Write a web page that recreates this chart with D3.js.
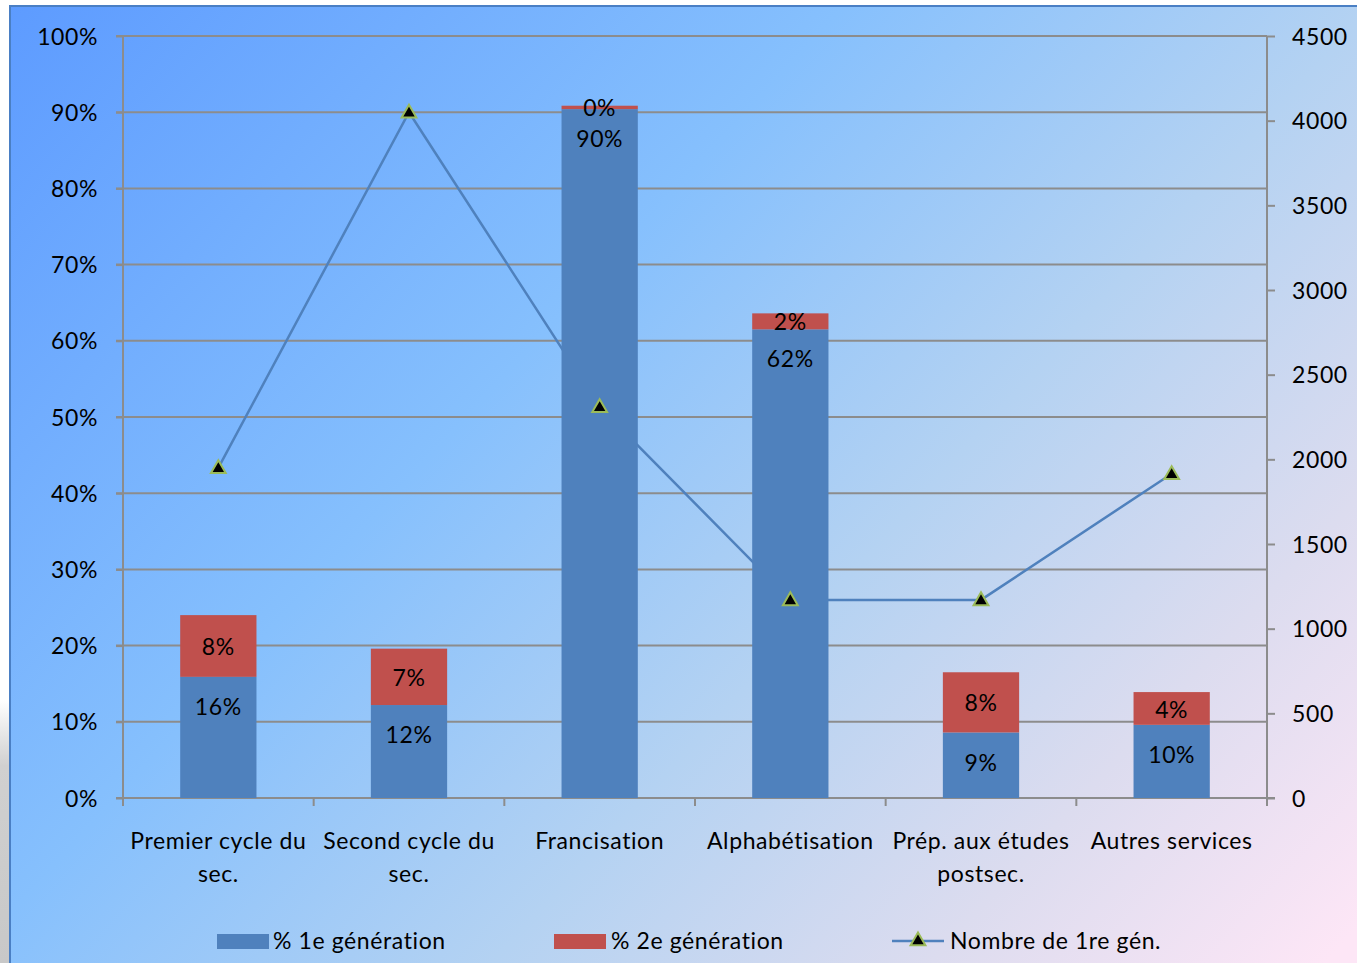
<!DOCTYPE html>
<html>
<head>
<meta charset="utf-8">
<script src="https://cdn.jsdelivr.net/npm/d3@7/dist/d3.min.js"></script>
<style>
  html, body { margin: 0; padding: 0; background: #ffffff; }
  svg { display: block; }
  text { font-family: Lato, "Open Sans", sans-serif; fill: #000; letter-spacing: 0.6px; }
</style>
</head>
<body>
<svg id="chart" width="1357" height="963"></svg>
<script>
// ---- Data ----
const categories = ["Premier cycle du sec.", "Second cycle du sec.", "Francisation", "Alphabétisation", "Prép. aux études postsec.", "Autres services"];
const tickLabels = [["Premier cycle du", "sec."], ["Second cycle du", "sec."], ["Francisation"], ["Alphabétisation"], ["Prép. aux études", "postsec."], ["Autres services"]];
const gen1 = [15.9, 12.2, 90.4, 61.5, 8.6, 9.6];      // % 1e génération
const gen2 = [8.1, 7.4, 0.45, 2.1, 7.9, 4.3];         // % 2e génération
const count1 = [1950, 4050, 2310, 1170, 1170, 1915];  // Nombre de 1re gén.
const leftTicks = [0, 10, 20, 30, 40, 50, 60, 70, 80, 90, 100];
const rightTicks = [0, 500, 1000, 1500, 2000, 2500, 3000, 3500, 4000, 4500];
const seriesNames = ["% 1e génération", "% 2e génération", "Nombre de 1re gén."];

// ---- Layout ----
const W = 1357, H = 963;
const plot = { left: 123, right: 1267, top: 36, bottom: 798 };
const colBlue = "#4f81bd", colRed = "#c0504d", colGrid = "#8c8c8c", colMarkerStroke = "#9bbb59";
const fontSize = 23;

const svg = d3.select("#chart");
const defs = svg.append("defs");

const bg = defs.append("linearGradient").attr("id", "bg")
  .attr("gradientUnits", "userSpaceOnUse")
  .attr("x1", 10).attr("y1", 6).attr("x2", 1200).attr("y2", 1100);
bg.append("stop").attr("offset", 0).attr("stop-color", "#5d9bff");
bg.append("stop").attr("offset", 0.38).attr("stop-color", "#86c0fd");
bg.append("stop").attr("offset", 0.62).attr("stop-color", "#b4d2f2");
bg.append("stop").attr("offset", 0.82).attr("stop-color", "#dcdcef");
bg.append("stop").attr("offset", 1).attr("stop-color", "#fde6f6");

const sh = defs.append("linearGradient").attr("id", "shadow")
  .attr("x1", 0).attr("y1", 0).attr("x2", 0).attr("y2", 1);
sh.append("stop").attr("offset", 0).attr("stop-color", "#ffffff");
sh.append("stop").attr("offset", 0.25).attr("stop-color", "#d0d0d0");
sh.append("stop").attr("offset", 1).attr("stop-color", "#c8c8c8");

// Outer shadow on left edge
svg.append("rect").attr("x", 0).attr("y", 700).attr("width", 10).attr("height", 263).attr("fill", "url(#shadow)");

// Chart area background
svg.append("rect").attr("x", 10).attr("y", 6).attr("width", W).attr("height", H)
  .attr("fill", "url(#bg)").attr("stroke", "#4a7fc4").attr("stroke-width", 2);

// ---- Scales ----
const x = d3.scaleBand().domain(categories).range([plot.left, plot.right]).paddingInner(0.6).paddingOuter(0.3);
const xOuter = d3.scaleBand().domain(categories).range([plot.left, plot.right]);
const yL = d3.scaleLinear().domain([0, 100]).range([plot.bottom, plot.top]);
const yR = d3.scaleLinear().domain([0, 4500]).range([plot.bottom, plot.top]);

// ---- Gridlines ----
svg.append("g").selectAll("line").data(leftTicks.filter(d => d > 0)).join("line")
  .attr("x1", plot.left - 7).attr("x2", plot.right)
  .attr("y1", d => yL(d)).attr("y2", d => yL(d))
  .attr("stroke", colGrid).attr("stroke-width", 2);

// ---- Left axis ----
const gL = svg.append("g").attr("transform", `translate(${plot.left},0)`)
  .call(d3.axisLeft(yL).tickValues(leftTicks).tickFormat(d => d + "%").tickSize(7).tickPadding(18));
gL.select(".domain").attr("stroke", colGrid).attr("stroke-width", 2).attr("d", `M0,${plot.top}V${plot.bottom + 8}`);
gL.selectAll(".tick line").attr("stroke", colGrid).attr("stroke-width", 2);
gL.selectAll(".tick text").style("font-size", fontSize + "px").style("font-family", "Lato").attr("fill", "#000").attr("dy", "0.35em");

// ---- Right axis ----
const gR = svg.append("g").attr("transform", `translate(${plot.right},0)`)
  .call(d3.axisRight(yR).tickValues(rightTicks).tickFormat(d3.format("d")).tickSize(8).tickPadding(17));
gR.select(".domain").attr("stroke", colGrid).attr("stroke-width", 2).attr("d", `M0,${plot.top}V${plot.bottom + 8}`);
gR.selectAll(".tick line").attr("stroke", colGrid).attr("stroke-width", 2);
gR.selectAll(".tick text").style("font-size", fontSize + "px").style("font-family", "Lato").attr("fill", "#000").attr("dy", "0.35em");

// ---- Bottom axis ----
const gB = svg.append("g");
gB.append("line").attr("x1", plot.left - 7).attr("x2", plot.right + 8)
  .attr("y1", plot.bottom).attr("y2", plot.bottom).attr("stroke", colGrid).attr("stroke-width", 2);
const boundaries = categories.map(c => xOuter(c)).concat([plot.right]);
gB.selectAll("line.tk").data(boundaries).join("line").attr("class", "tk")
  .attr("x1", d => d).attr("x2", d => d).attr("y1", plot.bottom).attr("y2", plot.bottom + 8)
  .attr("stroke", colGrid).attr("stroke-width", 2);
gB.selectAll("text.cat").data(categories).join("text").attr("class", "cat")
  .attr("text-anchor", "middle").style("font-size", fontSize + "px")
  .attr("transform", d => `translate(${x(d) + x.bandwidth() / 2},0)`)
  .each(function(d, i) {
    d3.select(this).selectAll("tspan").data(tickLabels[i]).join("tspan")
      .attr("x", 0).attr("y", (t, j) => 849 + j * 33).text(t => t);
  });

// ---- Line (behind bars) ----
const cx = c => x(c) + x.bandwidth() / 2;
const lineGen = d3.line().x((d, i) => cx(categories[i])).y(d => yR(d));
svg.append("path").datum(count1).attr("d", lineGen)
  .attr("fill", "none").attr("stroke", colBlue).attr("stroke-width", 2.5);

// ---- Bars ----
const bars = svg.append("g");
bars.selectAll("rect.g1").data(gen1).join("rect").attr("class", "g1")
  .attr("x", (d, i) => x(categories[i])).attr("width", x.bandwidth())
  .attr("y", d => yL(d)).attr("height", d => yL(0) - yL(d)).attr("fill", colBlue);
bars.selectAll("rect.g2").data(gen2).join("rect").attr("class", "g2")
  .attr("x", (d, i) => x(categories[i])).attr("width", x.bandwidth())
  .attr("y", (d, i) => yL(gen1[i] + d)).attr("height", (d, i) => yL(gen1[i]) - yL(gen1[i] + d)).attr("fill", colRed);

// ---- Bar labels ----
const labels = svg.append("g").style("font-size", fontSize + "px").attr("text-anchor", "middle");
labels.selectAll("text.l1").data(gen1).join("text").attr("class", "l1")
  .attr("x", (d, i) => cx(categories[i])).attr("y", d => yL(d) + 30).attr("dy", "0.35em")
  .text(d => Math.round(d) + "%");
labels.selectAll("text.l2").data(gen2).join("text").attr("class", "l2")
  .attr("x", (d, i) => cx(categories[i])).attr("y", (d, i) => (yL(gen1[i]) + yL(gen1[i] + d)) / 2 + 1).attr("dy", "0.35em")
  .text(d => Math.round(d) + "%");

// ---- Markers ----
const tri = d3.symbol().type(d3.symbolTriangle).size(95);
svg.append("g").selectAll("path").data(count1).join("path")
  .attr("d", tri).attr("transform", (d, i) => `translate(${cx(categories[i])},${yR(d) + 1})`)
  .attr("fill", "#000").attr("stroke", colMarkerStroke).attr("stroke-width", 2);

// ---- Legend ----
const lg = svg.append("g").style("font-size", fontSize + "px");
const legendY = 941;
lg.append("rect").attr("x", 217).attr("y", legendY - 7).attr("width", 52).attr("height", 15).attr("fill", colBlue);
lg.append("text").attr("x", 273).attr("y", legendY).attr("dy", "0.35em").text(seriesNames[0]);
lg.append("rect").attr("x", 554).attr("y", legendY - 7).attr("width", 52).attr("height", 15).attr("fill", colRed);
lg.append("text").attr("x", 611).attr("y", legendY).attr("dy", "0.35em").text(seriesNames[1]);
lg.append("line").attr("x1", 892).attr("x2", 944).attr("y1", legendY).attr("y2", legendY).attr("stroke", colBlue).attr("stroke-width", 2.5);
lg.append("path").attr("d", tri).attr("transform", `translate(918,${legendY})`)
  .attr("fill", "#000").attr("stroke", colMarkerStroke).attr("stroke-width", 2);
lg.append("text").attr("x", 950).attr("y", legendY).attr("dy", "0.35em").text(seriesNames[2]);
</script>
</body>
</html>
